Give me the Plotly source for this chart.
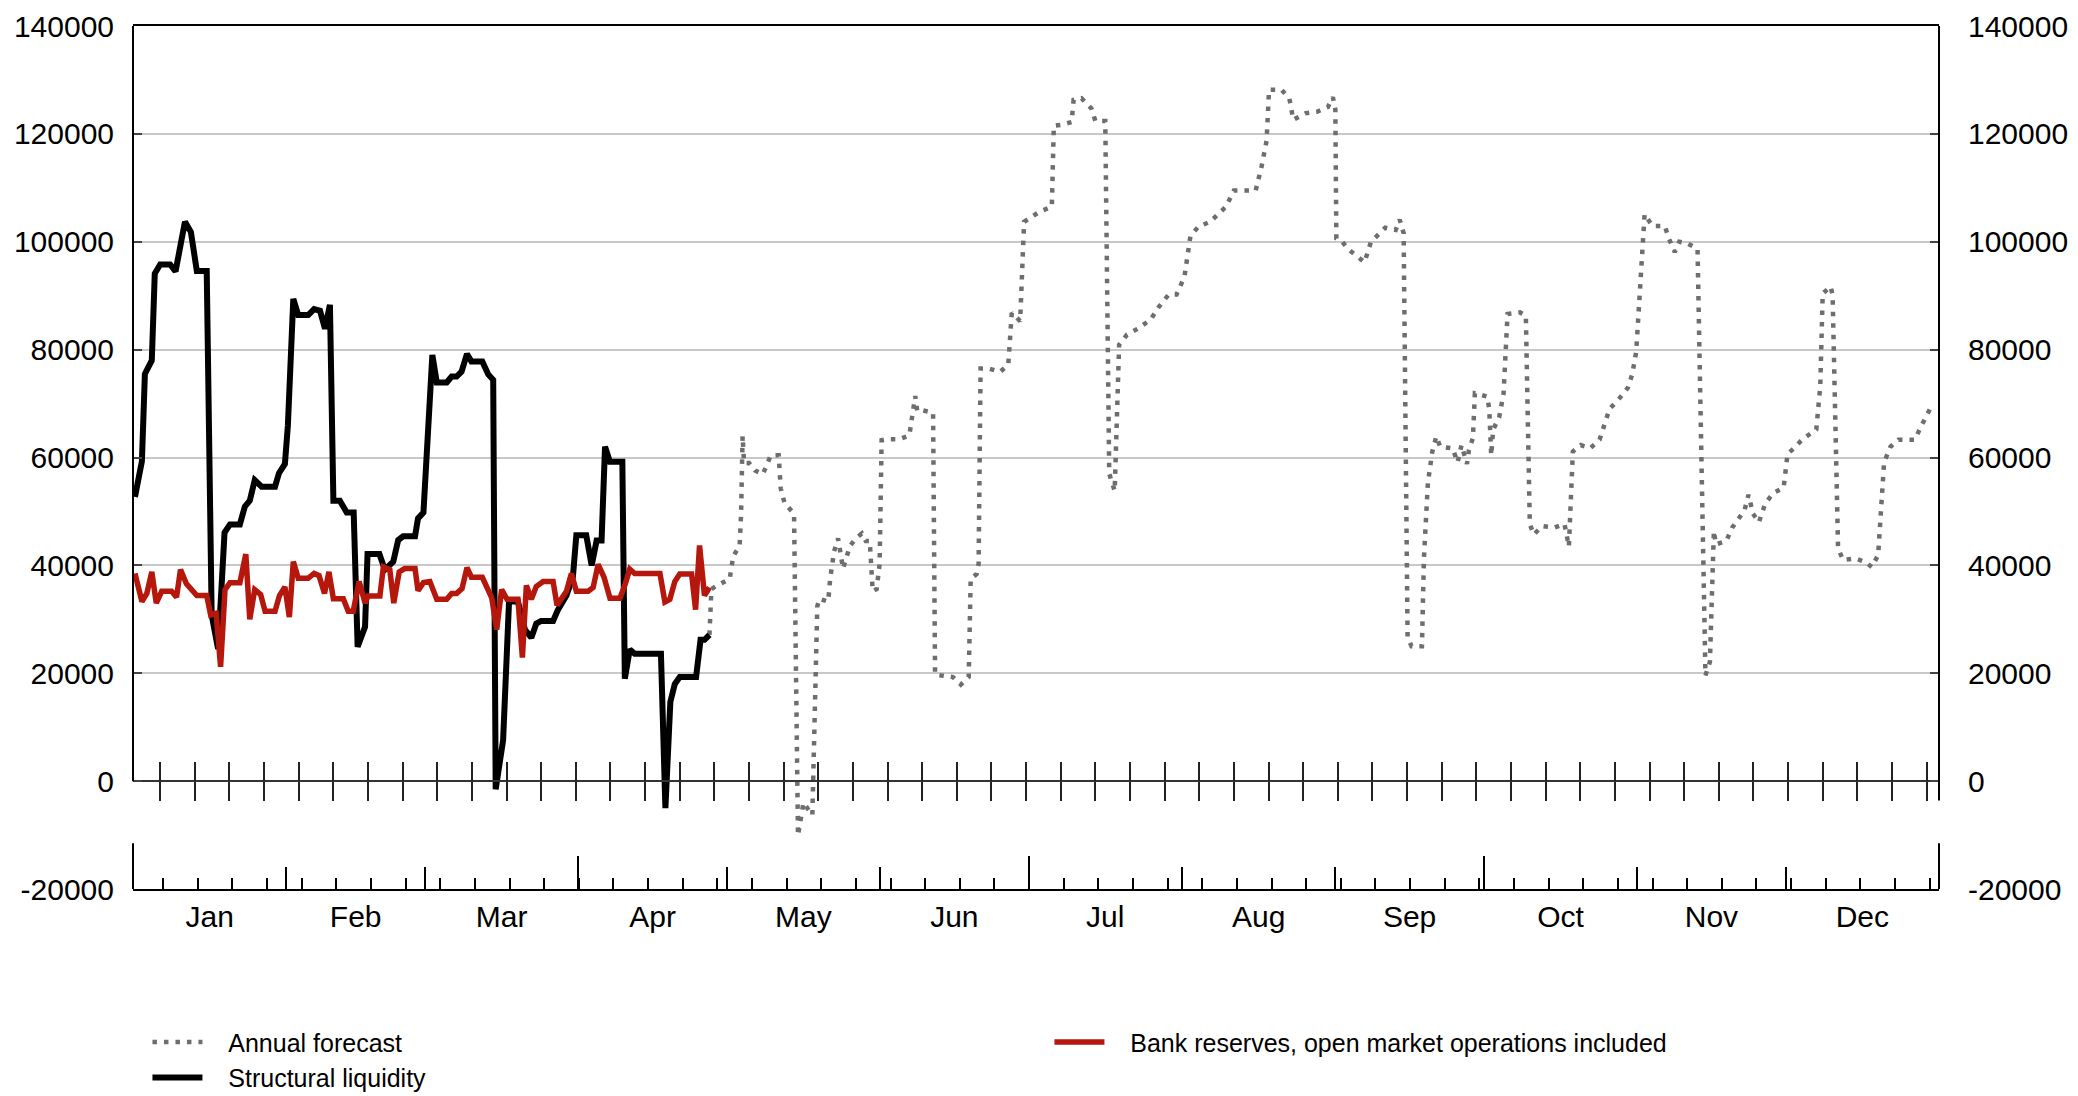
import pandas as pd
import plotly.graph_objects as go

BASE = pd.Timestamp("2019-01-01")

# ---------------- data (day of year offset, value) ----------------
sl_day = [0.4, 1.8, 2.4, 3.8, 4.4, 5.5, 7.5, 8.6, 10.5, 11.7, 12.9, 14.9, 15.9, 17.2, 18.5, 19.6,
          21.6, 22.6, 23.6, 24.6, 26.0, 28.7, 29.5, 30.7, 31.3, 32.4, 33.4, 35.4, 36.6, 37.8, 38.8,
          39.8, 40.5, 41.8, 43.2, 44.6, 45.4, 46.9, 47.4, 49.8, 50.9, 52.6, 53.6, 54.6, 57.0, 57.6,
          58.7, 59.3, 60.0, 60.5, 61.4, 63.4, 64.4, 65.4, 66.4, 67.5, 68.4, 70.6, 71.8, 72.8, 73.3,
          74.8, 76.0, 77.8, 79.2, 80.5, 81.5, 82.5, 84.9, 85.9, 87.6, 88.9, 89.6, 91.6, 92.7, 93.7,
          94.7, 95.4, 96.4, 98.9, 99.4, 100.4, 101.4, 106.7, 107.6, 108.6, 109.5, 110.5, 113.8,
          114.7, 115.5, 116.5]
sl_val = [52700, 59300, 75500, 78000, 94100, 95800, 95800, 94500, 103700, 101800, 94600, 94600,
          30800, 24500, 46100, 47600, 47600, 50900, 52000, 55800, 54600, 54600, 57100, 58800,
          65900, 89400, 86400, 86400, 87500, 87200, 83900, 88300, 52000, 52000, 49800, 49800,
          24900, 28600, 42100, 42100, 39200, 40700, 44700, 45400, 45400, 48700, 49800, 60100,
          75500, 79000, 73900, 73900, 75000, 75000, 75900, 79200, 77800, 77800, 75400, 74400,
          -1500, 7600, 33300, 33300, 28100, 26600, 29200, 29700, 29700, 31800, 34400, 37800,
          45600, 45600, 40000, 44600, 44600, 62000, 59200, 59200, 19000, 24400, 23600, 23600,
          -5000, 14700, 18000, 19300, 19300, 26200, 26200, 27100]

br_day = [0.4, 1.8, 2.8, 3.8, 4.7, 5.8, 7.8, 8.8, 9.6, 10.8, 12.9, 14.9, 15.7, 16.8, 17.7, 18.6,
          19.6, 21.6, 22.8, 23.6, 24.6, 25.8, 26.7, 28.7, 29.6, 30.7, 31.6, 32.4, 33.4, 35.4,
          36.6, 37.6, 38.7, 39.6, 40.5, 42.5, 43.5, 44.5, 45.7, 46.9, 47.5, 49.9, 50.6, 51.9,
          52.7, 53.8, 54.9, 57.0, 57.6, 58.7, 60.0, 61.4, 63.4, 64.4, 65.4, 66.5, 67.5, 68.4,
          70.6, 71.6, 72.5, 73.5, 74.5, 75.6, 77.8, 78.7, 79.5, 80.5, 81.5, 82.9, 84.9, 85.7,
          86.6, 87.6, 88.6, 89.6, 92.0, 93.0, 94.0, 95.2, 96.4, 98.4, 99.4, 100.4, 101.4, 106.5,
          107.5, 108.5, 109.5, 110.5, 112.9, 113.7, 114.5, 115.5, 116.5]
br_val = [38500, 33300, 34800, 38800, 33000, 35200, 35200, 34100, 39200, 36600, 34400, 34400,
          30800, 31100, 21200, 35500, 36800, 36800, 42100, 30000, 35500, 34600, 31500, 31500,
          34400, 36000, 30400, 40700, 37600, 37600, 38500, 38100, 34800, 38800, 33800, 33800,
          31500, 31500, 37000, 33000, 34300, 34300, 39700, 39200, 33000, 38800, 39400, 39400,
          35300, 36800, 37000, 33700, 33700, 34800, 34800, 35700, 39600, 37800, 37800, 35900,
          34000, 28100, 35500, 33700, 33700, 22900, 36300, 33700, 36100, 37000, 37000, 32600,
          33700, 35200, 38500, 35200, 35200, 35900, 40200, 37800, 33900, 33900, 36300, 39300,
          38500, 38500, 33200, 33700, 37000, 38400, 38400, 31800, 43700, 34400, 35900]

af_day = [116.5, 116.9, 117.7, 120.6, 121.3, 122.6, 122.9, 123.2, 123.5, 124.5, 125.7, 127.3,
          128.9, 130.5, 130.9, 131.7, 133.6, 134.4, 135.5, 137.3, 138.3, 138.7, 140.5, 140.9,
          141.7, 142.5, 143.5, 144.1, 144.9, 146.1, 147.3, 148.1, 148.9, 149.5, 150.3, 150.9,
          151.3, 152.5, 154.9, 156.9, 158.1, 158.5, 159.3, 161.7, 162.1, 163.3, 165.7, 167.3,
          168.9, 169.3, 170.5, 170.9, 171.3, 172.9, 175.3, 176.9, 177.3, 177.6, 179.3, 180.1,
          183.3, 185.7, 186.1, 187.7, 189.7, 190.1, 191.7, 193.7, 194.5, 196.5, 197.3, 198.4,
          199.3, 200.9, 203.3, 205.7, 207.3, 209.3, 210.9, 212.5, 213.7, 215.3, 217.7, 220.9,
          222.5, 226.9, 228.1, 229.1, 229.6, 232.1, 233.7, 234.5, 236.9, 239.3, 241.5, 242.5,
          243.0, 243.2, 244.4, 245.5, 248.9, 250.2, 253.1, 255.2, 256.0, 256.8, 257.6, 258.4,
          260.5, 260.9, 261.7, 262.6, 263.4, 264.2, 266.7, 267.7, 268.5, 269.6, 270.0, 270.8,
          271.2, 273.7, 274.1, 274.5, 274.9, 276.1, 277.0, 277.8, 280.3, 281.5, 282.3, 283.1,
          284.8, 287.3, 289.3, 290.2, 291.0, 292.6, 294.5, 296.4, 298.4, 300.1, 302.1, 303.0,
          303.8, 305.5, 307.1, 309.6, 310.4, 311.6, 312.5, 314.1, 316.2, 317.8, 318.7, 319.2,
          319.5, 319.9, 322.0, 323.2, 324.5, 325.7, 326.5, 327.4, 328.6, 329.9, 331.5, 333.6,
          334.4, 335.7, 337.3, 340.2, 341.0, 341.5, 343.1, 343.5, 344.6, 345.6, 348.1, 350.2,
          351.4, 352.7, 353.9, 355.2, 356.8, 360.1, 361.4, 363.4]
af_val = [27100, 35600, 36100, 37500, 41700, 43600, 49600, 64000, 59000, 59000, 57600, 56900,
          60400, 60400, 54300, 51500, 49600, -10100, -4000, -6300, 32400, 33800, 33300, 37500,
          42600, 45000, 39400, 41200, 43600, 45000, 45900, 44500, 44500, 35200, 35600, 40300,
          63200, 63400, 63400, 64100, 71400, 68600, 68800, 68300, 19800, 19600, 19300, 17900,
          19300, 37500, 38400, 40300, 76500, 76500, 75900, 77200, 85100, 86800, 85300, 103700,
          105600, 106500, 121500, 121700, 122200, 126300, 126600, 124700, 122400, 122400, 57000,
          53800, 80900, 82800, 84000, 85600, 87900, 90200, 90200, 93500, 101000, 102800, 103700,
          106500, 109500, 109500, 114000, 118700, 128200, 128200, 126600, 122600, 123800,
          124100, 125000, 126800, 124500, 100600, 100000, 98700, 96200, 100000, 102600, 102200,
          104100, 101600, 26600, 25000, 25000, 41300, 55300, 61100, 63900, 62000, 61700, 59100,
          62300, 58800, 61400, 63600, 71900, 71300, 69000, 60400, 65200, 67400, 71900, 86600,
          86900, 86300, 47700, 45700, 47300, 47000, 47700, 43500, 61100, 62300, 61700, 63300,
          69000, 70600, 72900, 75400, 79600, 105100, 102900, 102900, 100600, 98100, 100000,
          99700, 98700, 19600, 22100, 41300, 46400, 43900, 44500, 47000, 48600, 50200, 53100,
          49600, 48000, 51500, 53400, 54400, 60700, 61700, 63300, 65200, 73200, 90400, 91700,
          90100, 43200, 41000, 41300, 40600, 39700, 41900, 59100, 62000, 63300, 63300, 65800,
          69400]

y_ticks = [-20000, 0, 20000, 40000, 60000, 80000, 100000, 120000, 140000]
y_labels = [str(v) for v in y_ticks]
names = ["Annual forecast", "Structural liquidity", "Bank reserves, open market operations included"]


def to_dates(days):
    return BASE + pd.to_timedelta(pd.Series(days, dtype=float), unit="D")


FONT = "Liberation Sans, Arial, sans-serif"
FS = 30
GRAY = "#6e6e6e"
RED = "#b5170c"
PAD = "\u00a0\u00a0\u00a0"

fig = go.Figure()
fig.add_trace(go.Scatter(x=to_dates(af_day), y=af_val, mode="lines", name=PAD + names[0],
                         line=dict(color=GRAY, width=4.5, dash="4.5px,7px"), legendrank=1))
fig.add_trace(go.Scatter(x=to_dates(sl_day), y=sl_val, mode="lines", name=PAD + names[1],
                         line=dict(color="black", width=6), legendrank=3))
fig.add_trace(go.Scatter(x=to_dates(br_day), y=br_val, mode="lines", name=PAD + names[2],
                         line=dict(color=RED, width=5.5), legendrank=2))

# invisible helper traces so the overlay axes are drawn
for xa, ya in [("x2", "y"), ("x3", "y"), ("x4", "y"), ("x5", "y"), ("x", "y2")]:
    fig.add_trace(go.Scatter(x=[BASE], y=[0], xaxis=xa, yaxis=ya, mode="markers",
                             marker=dict(opacity=0), showlegend=False, hoverinfo="skip"))

xr = ["2019-01-01", "2020-01-01"]
common_x = dict(type="date", range=xr, showgrid=False, zeroline=False, fixedrange=True,
                automargin=False)
week = 7 * 86400000

# the page body adds an 8px offset, so the figure is 8px smaller than the window
fig.update_layout(
    width=2070, height=1088,
    margin=dict(l=125, r=139, t=18, b=207, autoexpand=False),
    paper_bgcolor="white", plot_bgcolor="white",
    font=dict(family=FONT, size=FS, color="black"),
    xaxis=dict(**common_x, dtick="M1", tick0="2019-01-01", ticklabelmode="period",
               tickformat="%b", ticks="inside", ticklen=22, tickwidth=1.5, tickcolor="black",
               showline=True, linecolor="black", linewidth=2, mirror=True,
               tickfont=dict(size=FS)),
    xaxis2=dict(**common_x, overlaying="x", anchor="y", side="bottom",
                tickmode="linear", tick0="2019-01-07 02:30", dtick=week,
                ticks="inside", ticklen=11, tickwidth=1.5, tickcolor="black",
                showticklabels=False, showline=False),
    xaxis3=dict(**common_x, overlaying="x", anchor="y", side="bottom",
                dtick="M3", tick0="2019-01-01",
                ticks="inside", ticklen=33, tickwidth=1.5, tickcolor="black",
                showticklabels=False, showline=False),
    xaxis4=dict(**common_x, overlaying="x", anchor="free", position=0.125, side="bottom",
                tickmode="linear", tick0="2019-01-06 12:00", dtick=week,
                ticks="outside", ticklen=19, tickwidth=1.5, tickcolor="#222222",
                showticklabels=False, showline=True, linecolor="#333333", linewidth=2),
    xaxis5=dict(**common_x, overlaying="x", anchor="free", position=0.125, side="bottom",
                tickmode="linear", tick0="2019-01-06 12:00", dtick=week,
                ticks="inside", ticklen=19, tickwidth=1.5, tickcolor="#222222",
                showticklabels=False, showline=False),
    yaxis=dict(range=[-20000, 140000], tickvals=y_ticks, ticktext=y_labels, ticks="inside",
               ticklen=9, tickcolor="#444444", tickwidth=1.5, showgrid=True,
               gridcolor="#c8c8c8", gridwidth=1.5, zeroline=False, showline=False,
               fixedrange=True, automargin=False, ticklabelstandoff=18),
    yaxis2=dict(range=[-20000, 140000], tickvals=y_ticks, ticktext=y_labels, ticks="inside",
                ticklen=9, tickcolor="#444444", tickwidth=1.5, overlaying="y", side="right",
                showgrid=False, zeroline=False, showline=False, fixedrange=True,
                automargin=False, ticklabelstandoff=28),
    showlegend=True,
    legend=dict(orientation="h", x=0.008, xanchor="left", y=-0.151, yanchor="top",
                entrywidth=837, entrywidthmode="pixels", itemwidth=50,
                traceorder="normal", font=dict(size=25), tracegroupgap=0,
                bgcolor="rgba(0,0,0,0)"),
)

# plot frame side lines (with the gap seen in the reference below zero)
for xp, segs in [(0, [(0, 140000), (-20000, -11500)]), (1, [(-3600, 140000), (-20000, -11500)])]:
    for y0, y1 in segs:
        fig.add_shape(type="line", xref="paper", yref="y", x0=xp, x1=xp, y0=y0, y1=y1,
                      line=dict(color="black", width=2), layer="above")

fig.write_html("out.html")
